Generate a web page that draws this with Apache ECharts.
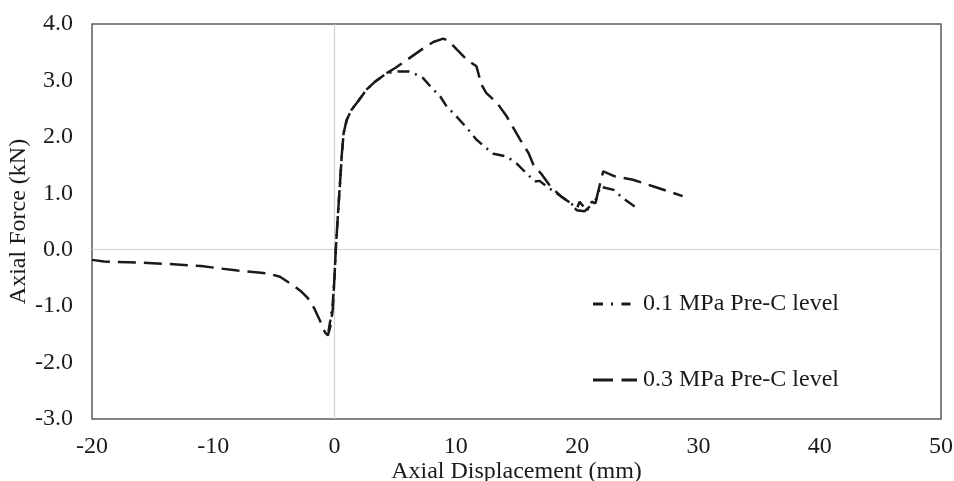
<!DOCTYPE html>
<html>
<head>
<meta charset="utf-8">
<script src="https://cdn.jsdelivr.net/npm/echarts@6/dist/echarts.min.js"></script>
<style>
html,body{margin:0;padding:0;background:#fff;}
#chart{width:954px;height:481px;}
</style>
</head>
<body>
<div id="chart"></div>
<script>
// Axis settings
var xMin = -20, xMax = 50, xStep = 10;
var yMin = -3, yMax = 4, yStep = 1;
var xTitle = 'Axial Displacement (mm)';
var yTitle = 'Axial Force (kN)';
var seriesNames = ['0.1 MPa Pre-C level', '0.3 MPa Pre-C level'];

// 0.1 MPa Pre-C level
var x01 = [-0.5, -0.35, -0.15, 0.0, 0.1, 0.3, 0.45, 0.6, 0.75, 1.0, 1.4, 2.0, 2.65, 3.3, 4.3, 5.2, 6.1, 6.6, 7.3, 8.0, 8.7, 9.24, 9.8, 10.9, 11.7, 12.4, 13.1, 14.2, 15.0, 15.8, 16.5, 16.9, 17.5, 18.3, 19.1, 20.0, 20.2, 20.8, 21.2, 21.5, 21.9, 23.0, 23.8, 24.9];
var y01 = [-1.45, -1.25, -0.95, -0.45, 0.0, 0.7, 1.18, 1.7, 2.07, 2.3, 2.48, 2.65, 2.84, 2.97, 3.13, 3.16, 3.16, 3.12, 3.04, 2.87, 2.72, 2.54, 2.42, 2.16, 1.95, 1.82, 1.70, 1.65, 1.53, 1.36, 1.21, 1.22, 1.12, 1.0, 0.88, 0.74, 0.85, 0.69, 0.85, 0.82, 1.12, 1.06, 0.91, 0.74];

// 0.3 MPa Pre-C level
var x03 = [-20, -19, -17, -15, -13, -11, -9.5, -8, -6.5, -5.5, -4.5, -3.5, -2.8, -2.2, -1.7, -1.2, -0.8, -0.55, -0.35, -0.15, 0.0, 0.1, 0.3, 0.45, 0.6, 0.75, 1.0, 1.4, 2.0, 2.65, 3.3, 4.3, 5.0, 6.2, 7.2, 8.14, 8.96, 9.4, 10.07, 10.9, 11.7, 12.1, 12.5, 13.4, 14.2, 15.3, 16.0, 16.4, 17.1, 17.8, 18.7, 19.5, 19.96, 20.6, 21.3, 21.6, 21.9, 22.15, 23.1, 24.6, 26.3, 28.7];
var y03 = [-0.18, -0.21, -0.22, -0.24, -0.26, -0.29, -0.33, -0.37, -0.40, -0.42, -0.48, -0.62, -0.73, -0.86, -1.03, -1.26, -1.46, -1.52, -1.36, -1.06, -0.46, 0.0, 0.7, 1.18, 1.7, 2.07, 2.3, 2.48, 2.65, 2.84, 2.97, 3.13, 3.22, 3.40, 3.55, 3.68, 3.74, 3.70, 3.55, 3.37, 3.25, 2.93, 2.78, 2.60, 2.36, 1.95, 1.71, 1.50, 1.33, 1.12, 0.94, 0.82, 0.70, 0.68, 0.82, 0.91, 1.18, 1.39, 1.30, 1.24, 1.12, 0.95];

function pairs(xs, ys) {
  var out = [];
  for (var i = 0; i < xs.length; i++) out.push([xs[i], ys[i]]);
  return out;
}

var FONT = 'Liberation Serif';
var TXT = '#1a1a1a';
// legend glyphs (dash-dot and long dash), 45 x 3 box
var iconDashDot = 'path://M0,0L10,0L10,3L0,3Z M18,0L20,0L20,3L18,3Z M28.5,0L37.5,0L37.5,3L28.5,3Z M45,3';
var iconDash = 'path://M0,0L20,0L20,3L0,3Z M28.5,0L44,0L44,3L28.5,3Z M45,3';

var chart = echarts.init(document.getElementById('chart'), null, {renderer: 'canvas'});
chart.setOption({
  animation: false,
  backgroundColor: '#ffffff',
  grid: {
    left: 92, right: 13, top: 24, bottom: 62,
    containLabel: false, outerBoundsMode: 'none',
    show: true, borderColor: '#595959', borderWidth: 1.5, backgroundColor: 'transparent'
  },
  legend: {
    orient: 'vertical',
    left: 588, top: 287,
    itemWidth: 45, itemHeight: 3,
    itemGap: 52,
    data: [
      {name: seriesNames[0], icon: iconDashDot},
      {name: seriesNames[1], icon: iconDash}
    ],
    textStyle: {fontFamily: FONT, fontSize: 24, color: TXT}
  },
  xAxis: {
    type: 'value', min: xMin, max: xMax, interval: xStep,
    name: xTitle, nameLocation: 'middle', nameGap: 41, nameMoveOverlap: false,
    nameTextStyle: {fontFamily: FONT, fontSize: 24, color: TXT},
    axisLine: {show: false}, axisTick: {show: false}, splitLine: {show: false},
    axisLabel: {fontFamily: FONT, fontSize: 24, color: TXT, margin: 16}
  },
  yAxis: {
    type: 'value', min: yMin, max: yMax, interval: yStep,
    name: yTitle, nameLocation: 'middle', nameGap: 61, nameMoveOverlap: false,
    nameTextStyle: {fontFamily: FONT, fontSize: 24, color: TXT},
    axisLine: {show: false}, axisTick: {show: false}, splitLine: {show: false},
    axisLabel: {fontFamily: FONT, fontSize: 24, color: TXT, margin: 19,
      formatter: function (v) { return v.toFixed(1); }}
  },
  series: [
    {
      name: seriesNames[0], type: 'line', data: pairs(x01, y01),
      showSymbol: false, symbol: 'none', smooth: false, z: 4,
      lineStyle: {color: TXT, width: 2.5, type: [12, 6, 2, 6]},
      itemStyle: {color: TXT},
      markLine: {
        silent: true, symbol: 'none', label: {show: false},
        lineStyle: {color: '#d0d0d0', width: 1.2, type: 'solid'},
        data: [{xAxis: 0}, {yAxis: 0}], z: 1
      }
    },
    {
      name: seriesNames[1], type: 'line', data: pairs(x03, y03),
      showSymbol: false, symbol: 'none', smooth: false, z: 3,
      lineStyle: {color: TXT, width: 2.5, type: [18, 8]},
      itemStyle: {color: TXT}
    }
  ]
});
</script>
</body>
</html>
